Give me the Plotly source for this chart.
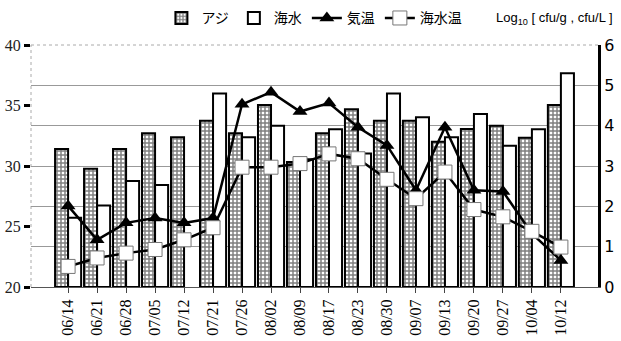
import plotly.graph_objects as go

dates = ["06/14","06/21","06/28","07/05","07/12","07/21","07/26","08/02","08/09",
         "08/17","08/23","08/30","09/07","09/13","09/20","09/27","10/04","10/12"]
aji = [3.42, 2.93, 3.42, 3.81, 3.71, 4.12, 3.81, 4.51, 3.10, 3.81, 4.41, 4.12,
       4.12, 3.60, 3.92, 4.00, 3.70, 4.51]
kaisui = [1.72, 2.02, 2.63, 2.53, None, 4.80, 3.71, 4.00, 3.17, 3.91, 3.31, 4.80,
          4.21, 3.71, 4.29, 3.50, 3.91, 5.30]
kion = [26.7, 23.9, 25.3, 25.7, 25.3, 25.7, 35.1, 36.1, 34.5, 35.2, 33.2, 31.7,
        28.0, 33.2, 28.0, 27.9, 24.4, 22.2]
suion = [21.7, 22.4, 22.8, 23.1, 23.9, 24.9, 29.9, 29.9, 30.2, 31.0, 30.6, 28.9,
         27.3, 29.5, 26.4, 25.8, 24.6, 23.3]
left_ticks = [20, 25, 30, 35, 40]
right_ticks = [0, 1, 2, 3, 4, 5, 6]

serif = "Liberation Serif, Times New Roman, serif"
sans = "Noto Sans CJK JP, DejaVu Sans, sans-serif"

fig = go.Figure()
fig.add_trace(go.Bar(
    x=dates, y=aji, name="アジ", yaxis="y",
    marker=dict(color="white", line=dict(color="black", width=2),
                pattern=dict(shape="+", fgcolor="black", bgcolor="white",
                             size=4, solidity=0.6)),
))
fig.add_trace(go.Bar(
    x=dates, y=kaisui, name="海水", yaxis="y",
    marker=dict(color="white", line=dict(color="black", width=2)),
))
fig.add_trace(go.Scatter(
    x=dates, y=kion, name="気温", yaxis="y2", mode="lines+markers",
    line=dict(color="black", width=2.5),
    marker=dict(symbol="triangle-up", size=13, color="black"),
))
fig.add_trace(go.Scatter(
    x=dates, y=suion, name="海水温", yaxis="y2", mode="lines+markers",
    line=dict(color="black", width=2.5),
    marker=dict(symbol="square", size=14, color="white",
                line=dict(color="#777", width=1)),
))

fig.update_layout(
    width=621, height=341,
    margin=dict(l=31, r=23, t=45, b=54, autoexpand=False),
    paper_bgcolor="white", plot_bgcolor="white",
    barmode="group", bargap=0.1, bargroupgap=0.0,
    showlegend=True,
    legend=dict(orientation="h", x=0.23, y=1.11, xanchor="left", yanchor="middle",
                font=dict(family=sans, size=14, color="black"),
                itemwidth=30, tracegroupgap=0, bgcolor="rgba(0,0,0,0)"),
    xaxis=dict(type="category", tickangle=-90, ticks="outside", ticklen=5,
               tickcolor="#444", showline=True, linecolor="#555", linewidth=1,
               automargin=False,
               tickfont=dict(family=serif, size=16, color="black"), showgrid=False),
    yaxis=dict(side="right", range=[0, 6], tickvals=right_ticks, showgrid=True,
               gridcolor="#999", gridwidth=1, showline=True, linecolor="black",
               linewidth=3, ticks="", zeroline=False, automargin=False,
               tickfont=dict(family="DejaVu Sans, sans-serif", size=16, color="black")),
    yaxis2=dict(side="left", overlaying="y", range=[20, 40], tickvals=left_ticks,
                showgrid=False, zeroline=False, ticks="outside", ticklen=6,
                tickwidth=2.5, tickcolor="black", showline=False, automargin=False,
                ticklabelstandoff=0,
                tickfont=dict(family=serif, size=16, color="#222")),
)

fig.add_shape(type="line", xref="paper", yref="paper", x0=0, x1=1, y0=1, y1=1,
              line=dict(color="#aaa", width=1, dash="dot"), layer="below")
fig.add_shape(type="line", xref="paper", yref="paper", x0=0, x1=0, y0=0, y1=1,
              line=dict(color="#aaa", width=1, dash="dot"), layer="below")
fig.add_annotation(xref="paper", yref="paper", x=1.03, y=1.11, xanchor="right",
                   yanchor="middle", showarrow=False,
                   text="Log<sub>10</sub> [ cfu/g , cfu/L ]",
                   font=dict(family="Liberation Sans Narrow, Arial Narrow, sans-serif",
                             size=13, color="black"))

fig.write_html("out.html")
